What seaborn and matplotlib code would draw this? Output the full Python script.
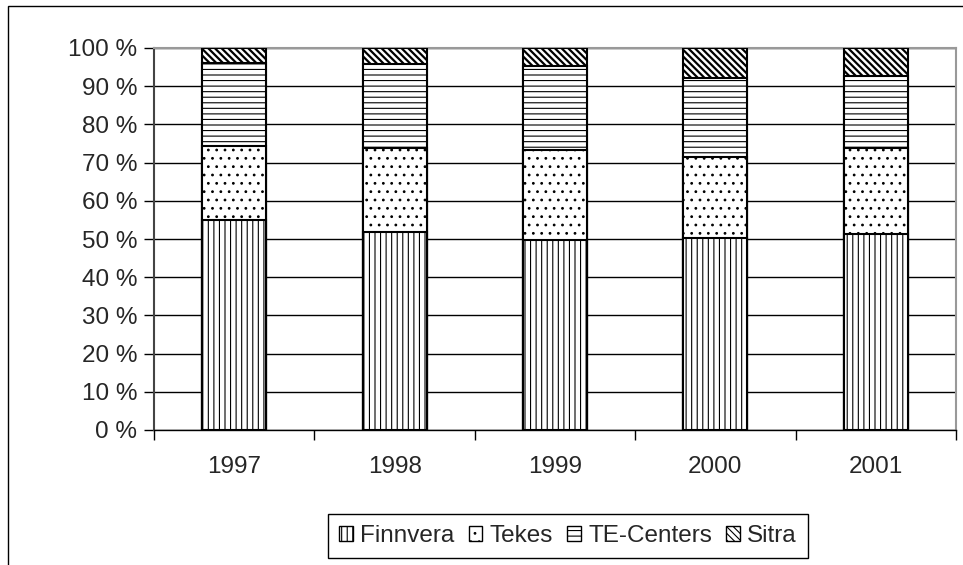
import numpy as np
import pandas as pd
import matplotlib
matplotlib.use("Agg")
import matplotlib.pyplot as plt
from matplotlib.patches import Patch, Rectangle
import seaborn as sns

# data (share of funding, %)
years = ["1997", "1998", "1999", "2000", "2001"]
finnvera = [55.0, 51.8, 49.7, 50.3, 51.4]
tekes = [19.3, 22.0, 23.6, 21.2, 22.3]
te_centers = [21.9, 22.0, 22.0, 20.6, 19.0]
sitra = [3.8, 4.2, 4.7, 7.9, 7.3]

series = ["Finnvera", "Tekes", "TE-Centers", "Sitra"]
hatches = ["|||", "..", "---", "\\" * 5]

sns.set_style("white")
plt.rcParams["font.family"] = ["Liberation Sans", "DejaVu Sans"]
plt.rcParams["hatch.linewidth"] = 0.8

# cumulative tops, drawn from the top segment down so each covers the one below
vals = np.array([finnvera, tekes, te_centers, sitra])
cum = np.cumsum(vals, axis=0)
df = pd.DataFrame({"year": years})
for name, c in zip(series, cum):
    df[name] = c

fig = plt.figure(figsize=(9.63, 5.65), dpi=100)
ax = fig.add_axes([154 / 963, 1 - 430 / 565, (956 - 154) / 963, (430 - 48) / 565])

for name, h in reversed(list(zip(series, hatches))):
    n_before = len(ax.patches)
    sns.barplot(data=df, x="year", y=name, ax=ax, color="white", saturation=1,
                width=0.4, edgecolor="black", linewidth=1.5, hatch=h, zorder=3)
    if name == "Sitra":
        # heavier diagonal stripes
        for p in ax.patches[n_before:]:
            if hasattr(p, "set_hatch_linewidth"):
                p.set_hatch_linewidth(1.6)

ax.set_ylim(0, 100)
ax.set_xlim(-0.5, 4.5)
ax.set_yticks(np.arange(0, 101, 10))
ax.set_yticklabels([f"{v} %" for v in range(0, 101, 10)])
ax.set_xticks(range(len(years)))
ax.set_xticklabels(years)
ax.set_xticks(np.arange(-0.5, 5, 1), minor=True)
ax.set_xlabel("")
ax.set_ylabel("")

ax.yaxis.grid(True, color="black", linewidth=1)
ax.set_axisbelow(True)

ax.tick_params(axis="y", which="major", direction="out", length=7, width=1,
               color="black", labelsize=17.5, pad=5, left=True)
ax.tick_params(axis="x", which="major", length=0, labelsize=17.5, pad=19)
ax.tick_params(axis="x", which="minor", direction="out", length=7, width=1,
               color="black", bottom=True)

for side in ["top", "right"]:
    ax.spines[side].set_visible(True)
    ax.spines[side].set_color("#999999")
    ax.spines[side].set_linewidth(1.5)
ax.spines["left"].set_color("#444444")
ax.spines["left"].set_linewidth(1.5)
ax.spines["bottom"].set_color("black")
ax.spines["bottom"].set_linewidth(1)

# legend
handles = [Patch(facecolor="white", edgecolor="black", hatch=h, linewidth=1, label=n)
           for n, h in zip(series, hatches)]
fig.legend(handles=handles, loc="center", bbox_to_anchor=(568 / 963, 1 - 536 / 565),
           ncol=4, fontsize=17.5, frameon=True, fancybox=False, edgecolor="black",
           framealpha=1, handlelength=0.55, handleheight=0.55, handletextpad=0.3,
           columnspacing=0.6, borderpad=0.45)

# outer chart frame
fig.patches.append(Rectangle((8 / 963, -0.2), 1.2, 1.2 - 6 / 565, transform=fig.transFigure,
                             fill=False, edgecolor="black", linewidth=1))

fig.savefig("out.png", dpi=100)
